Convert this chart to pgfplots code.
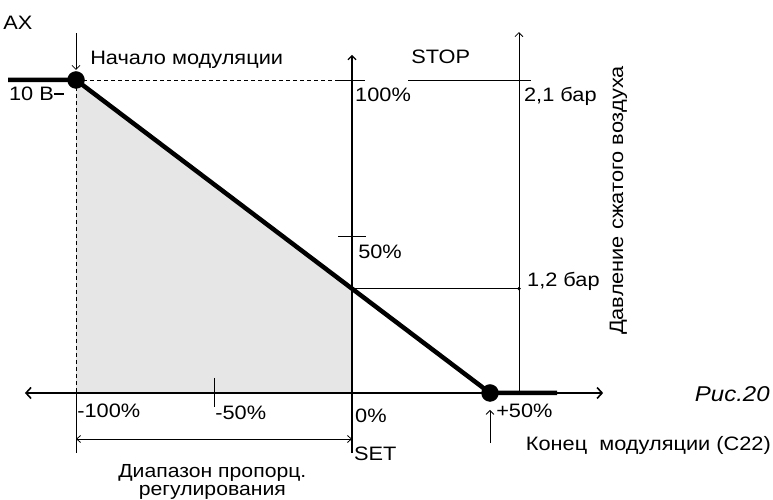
\documentclass[border=0pt]{standalone}
\usepackage{pgfplots}
\pgfplotsset{compat=1.18}
\usetikzlibrary{arrows.meta}
\usepackage{fontspec}
\setmainfont[FakeStretch=1.12]{Liberation Sans}
\definecolor{fillgray}{HTML}{E6E6E6}
\begin{document}
\begin{tikzpicture}[
  lbl/.style={inner sep=0pt, anchor=base west, font=\fontsize{19.5}{22}\selectfont},
  thinl/.style={black, line width=0.8bp},
  arr/.style={-{Straight Barb[length=4bp,width=8bp]}},
]
\begin{axis}[
  width=773bp, height=500bp, scale only axis,
  xmin=-127.54, xmax=152.54, ymin=-34.19, ymax=125.56,
  hide axis, clip=false,
]
% frame for bounding box
\addplot[draw=none] coordinates {(-127.54,-34.19) (152.54,125.56)};
% shaded area
\addplot[fill=fillgray, draw=none] coordinates {(-100,0) (-100,100) (0,33.33) (0,0)} \closedcycle;
% dashed guides
\addplot[thinl, dash pattern=on 4bp off 3bp] coordinates {(-100,100) (-5,100)};
\addplot[thinl, dash pattern=on 4bp off 3bp] coordinates {(-100,100) (-100,0)};
\addplot[thinl] coordinates {(-100,0) (-100,-19.2)};
% 100% and 50% ticks
\addplot[thinl] coordinates {(-5,100) (4.7,100)};
\addplot[thinl] coordinates {(-5,50) (5,50)};
% -50 tick
\addplot[thinl] coordinates {(-50,4.8) (-50,-4.5)};
% central vertical axis
\addplot[black, line width=1.2bp, arr] coordinates {(0,-19.2) (0,108)};
% horizontal axis
\addplot[black, line width=1.6bp, {Straight Barb[length=5bp,width=11bp]}-{Straight Barb[length=5bp,width=11bp]}] coordinates {(-118.5,0) (91,0)};
% right pressure axis
\addplot[thinl, arr] coordinates {(60.5,0) (60.5,115.3)};
% STOP line
\addplot[thinl] coordinates {(20.3,100) (64.9,100)};
% 1,2 bar line
\addplot[thinl] coordinates {(0,33.33) (60.5,33.33)};
\addplot[only marks, mark=*, mark size=1.5bp] coordinates {(60.5,33.33)};
% arrows
\addplot[thinl, arr] coordinates {(-100,115) (-100,103.2)};
\addplot[thinl, arr] coordinates {(50,-16) (50,-5.4)};
\addplot[thinl, {Straight Barb[length=4bp,width=7bp]}-{Straight Barb[length=4bp,width=7bp]}] coordinates {(-100,-14.7) (0,-14.7)};
% main characteristic
\addplot[black, line width=4.5bp, line join=round] coordinates {(-124.6,100) (-100,100) (50,0) (74.3,0)};
\addplot[only marks, mark=*, mark size=8.5bp] coordinates {(-100,100) (50,0)};
% labels
\node[lbl] at (axis cs:-126.4,116.0) {AX};
\node[lbl] at (axis cs:-94.9,104.8) {Начало модуляции};
\node[lbl] at (axis cs:-124.3,93.3) {10 В\rule[0.3em]{0.5em}{2.4bp}};
\node[lbl] at (axis cs:1.1,93.1) {100\%};
\node[lbl] at (axis cs:2.2,43.1) {50\%};
\node[lbl] at (axis cs:21.4,105.4) {STOP};
\node[lbl] at (axis cs:62.3,93.0) {2,1 бар};
\node[lbl] at (axis cs:63.4,33.9) {1,2 бар};
\node[lbl, rotate=90] at (axis cs:98.2,18.5) {Давление сжатого воздуха};
\node[lbl] at (axis cs:-99.6,-7.7) {-100\%};
\node[lbl] at (axis cs:-49.6,-8.6) {-50\%};
\node[lbl] at (axis cs:1.1,-9.3) {0\%};
\node[lbl] at (axis cs:52.2,-7.7) {+50\%};
\node[lbl, anchor=base east, font=\fontsize{21.5}{24}\selectfont\itshape] at (axis cs:151.4,-2.6) {Рис.20};
\node[lbl, anchor=base east] at (axis cs:151.8,-18.5) {Конец\ \ модуляции (С22)};
\node[lbl] at (axis cs:0.7,-21.7) {SET};
\node[lbl, anchor=north, align=center, font=\fontsize{19}{18.5}\selectfont] at (axis cs:-50.6,-22.7) {Диапазон пропорц.\\регулирования};
\end{axis}
\end{tikzpicture}
\end{document}
